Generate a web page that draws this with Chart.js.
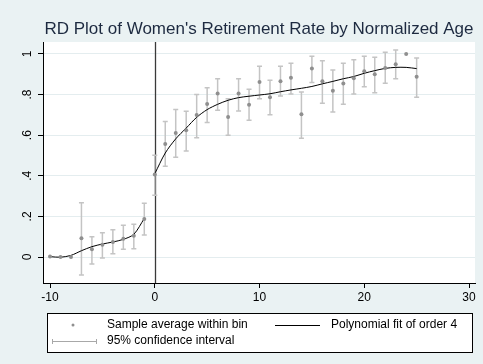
<!DOCTYPE html>
<html>
<head>
<meta charset="utf-8">
<script src="https://cdn.jsdelivr.net/npm/chart.js@4/dist/chart.umd.min.js"></script>
<style>
  html, body { margin: 0; padding: 0; background: #eaf2f3; }
  canvas { display: block; }
</style>
</head>
<body>
<canvas id="rd" width="483" height="364"></canvas>
<script>
// Normalized age bins (cutoff at 0) and the retirement rate within each bin
const binAge = [-10, -9, -8, -7, -6, -5, -4, -3, -2, -1,
  0, 1, 2, 3, 4, 5, 6, 7, 8, 9, 10, 11, 12, 13, 14, 15, 16, 17, 18, 19, 20, 21, 22, 23, 24, 25];
const binMean = [0.003, 0.0, 0.0, 0.092, 0.038, 0.061, 0.074, 0.090, 0.105, 0.187,
  0.407, 0.557, 0.611, 0.624, 0.700, 0.754, 0.805, 0.690, 0.805, 0.750, 0.862, 0.787, 0.866, 0.883,
  0.703, 0.928, 0.866, 0.819, 0.854, 0.880, 0.915, 0.900, 0.931, 0.950, 1.000, 0.888];
// 95% confidence bounds (null where the interval collapses)
const ciLow = [null, null, null, -0.089, -0.034, -0.005, 0.016, 0.038, 0.041, 0.108,
  0.304, 0.447, 0.491, 0.522, 0.588, 0.663, 0.723, 0.600, 0.719, 0.673, 0.780, 0.701, 0.793, 0.803,
  0.585, 0.859, 0.757, 0.714, 0.752, 0.803, 0.839, 0.809, 0.856, 0.878, null, 0.787];
const ciHigh = [null, null, null, 0.267, 0.100, 0.120, 0.134, 0.156, 0.161, 0.265,
  0.501, 0.668, 0.726, 0.718, 0.801, 0.834, 0.878, 0.780, 0.878, 0.826, 0.939, 0.870, 0.939, 0.954,
  0.813, 0.989, 0.967, 0.921, 0.954, 0.972, 0.989, 0.984, 1.008, 1.020, null, 0.980];

// Order-4 polynomial fit, each side of the cutoff
const fitLeftAge = [-10, -9, -8, -7, -6, -5, -4, -3, -2, -1];
const fitLeftVal = [0.002, -0.001, 0.008, 0.031, 0.051, 0.064, 0.074, 0.087, 0.112, 0.190];
const fitRightAge = [0, 1, 2, 3, 4, 5, 6, 7, 8, 9, 10, 11, 12, 13, 14, 15, 16, 17, 18, 19, 20, 21, 22, 23, 24, 25];
const fitRightVal = [0.410, 0.512, 0.582, 0.635, 0.688, 0.726, 0.752, 0.772, 0.785, 0.792, 0.798, 0.804,
  0.814, 0.823, 0.831, 0.840, 0.853, 0.865, 0.878, 0.889, 0.905, 0.918, 0.929, 0.934, 0.934, 0.928];

// Axis ticks
const xTickVals = [-10, 0, 10, 20, 30];
const yTickVals = [0, 0.2, 0.4, 0.6, 0.8, 1];
const yTickLabels = ['0', '.2', '.4', '.6', '.8', '1'];

const cutoff = 0;
const titleText = "RD Plot of Women's Retirement Rate by Normalized Age";
const legendLabels = ['Sample average within bin', 'Polynomial fit of order 4', '95% confidence interval'];

const FONT = '"Liberation Sans", Arial, sans-serif';
const BG = '#eaf2f3';
const POINT = '#8f8f8f';
const CI = '#c4c4c4';

const backdrop = {
  id: 'backdrop',
  beforeDraw(chart) {
    const { ctx, chartArea: a } = chart;
    ctx.save();
    ctx.fillStyle = BG;
    ctx.fillRect(0, 0, chart.width, chart.height);
    ctx.fillStyle = '#ffffff';
    ctx.fillRect(a.left, a.top, a.right - a.left, a.bottom - a.top);
    ctx.restore();
  }
};

const cutoffAndIntervals = {
  id: 'cutoffAndIntervals',
  beforeDatasetsDraw(chart) {
    const { ctx, chartArea: a, scales: { x, y } } = chart;
    ctx.save();
    // vertical line at the cutoff
    const cx = Math.round(x.getPixelForValue(cutoff)) + 0.5;
    ctx.strokeStyle = '#3a3a3a';
    ctx.lineWidth = 1.3;
    ctx.beginPath();
    ctx.moveTo(cx, a.top);
    ctx.lineTo(cx, a.bottom);
    ctx.stroke();
    // confidence intervals with caps
    ctx.strokeStyle = CI;
    ctx.lineWidth = 1.5;
    for (let i = 0; i < binAge.length; i++) {
      if (ciLow[i] === null || ciHigh[i] === null) continue;
      const px = x.getPixelForValue(binAge[i]);
      const y1 = y.getPixelForValue(ciLow[i]);
      const y2 = y.getPixelForValue(ciHigh[i]);
      ctx.beginPath();
      ctx.moveTo(px, y1); ctx.lineTo(px, y2);
      ctx.moveTo(px - 2.5, y1); ctx.lineTo(px + 2.5, y1);
      ctx.moveTo(px - 2.5, y2); ctx.lineTo(px + 2.5, y2);
      ctx.stroke();
    }
    ctx.restore();
  }
};

const textLayer = {
  id: 'textLayer',
  afterDraw(chart) {
    const { ctx, chartArea: a, scales: { y } } = chart;
    ctx.save();
    // title
    ctx.fillStyle = '#1d2a40';
    ctx.font = '17px ' + FONT;
    ctx.textAlign = 'center';
    ctx.textBaseline = 'middle';
    ctx.fillText(titleText, (a.left + a.right) / 2, 29);

    // vertical y tick labels
    ctx.fillStyle = '#000';
    ctx.font = '12px ' + FONT;
    yTickVals.forEach((v, i) => {
      ctx.save();
      ctx.translate(28, y.getPixelForValue(v));
      ctx.rotate(-Math.PI / 2);
      ctx.textAlign = 'center';
      ctx.textBaseline = 'middle';
      ctx.fillText(yTickLabels[i], 0, 0);
      ctx.restore();
    });

    // legend box
    const bx = 47, by = 313, bw = 425, bh = 39;
    ctx.fillStyle = '#fff';
    ctx.fillRect(bx, by, bw, bh);
    ctx.strokeStyle = '#000';
    ctx.lineWidth = 1;
    ctx.strokeRect(bx + 0.5, by + 0.5, bw, bh);

    const r1 = 325, r2 = 341;
    ctx.fillStyle = POINT;
    ctx.beginPath();
    ctx.arc(73, r1, 1.5, 0, Math.PI * 2);
    ctx.fill();

    ctx.strokeStyle = '#000';
    ctx.beginPath();
    ctx.moveTo(275, r1 + 0.5); ctx.lineTo(320, r1 + 0.5);
    ctx.stroke();

    ctx.strokeStyle = '#a8a8a8';
    ctx.beginPath();
    ctx.moveTo(52, r2 + 0.5); ctx.lineTo(97, r2 + 0.5);
    ctx.moveTo(52.5, r2 - 2); ctx.lineTo(52.5, r2 + 3);
    ctx.moveTo(96.5, r2 - 2); ctx.lineTo(96.5, r2 + 3);
    ctx.stroke();

    ctx.fillStyle = '#000';
    ctx.font = '12px ' + FONT;
    ctx.textAlign = 'left';
    ctx.textBaseline = 'middle';
    ctx.fillText(legendLabels[0], 107, r1);
    ctx.fillText(legendLabels[1], 331, r1);
    ctx.fillText(legendLabels[2], 107, r2);
    ctx.restore();
  }
};

new Chart(document.getElementById('rd'), {
  type: 'scatter',
  data: {
    datasets: [
      {
        label: legendLabels[0],
        data: binAge.map((a, i) => ({ x: a, y: binMean[i] })),
        pointRadius: 2,
        pointBackgroundColor: POINT,
        pointBorderWidth: 0,
        showLine: false,
        order: 0
      },
      {
        label: legendLabels[1],
        data: fitLeftAge.map((a, i) => ({ x: a, y: fitLeftVal[i] })),
        showLine: true,
        pointRadius: 0,
        borderColor: '#000',
        borderWidth: 1,
        tension: 0.3,
        order: 1
      },
      {
        label: legendLabels[1],
        data: fitRightAge.map((a, i) => ({ x: a, y: fitRightVal[i] })),
        showLine: true,
        pointRadius: 0,
        borderColor: '#000',
        borderWidth: 1,
        tension: 0.3,
        order: 1
      }
    ]
  },
  options: {
    responsive: false,
    animation: false,
    devicePixelRatio: 1,
    layout: { padding: { top: 42, right: 8, bottom: 0, left: 0 } },
    plugins: {
      legend: { display: false },
      title: { display: false },
      tooltip: { enabled: false }
    },
    scales: {
      x: {
        type: 'linear',
        min: -10.67,
        max: 30.57,
        afterBuildTicks: s => { s.ticks = xTickVals.map(v => ({ value: v })); },
        afterFit: s => { s.height = 81; },
        grid: { drawOnChartArea: false, drawTicks: true, tickLength: 5, tickColor: '#000' },
        border: { display: true, color: '#000', width: 1 },
        ticks: { color: '#000', font: { family: FONT, size: 12 }, padding: 2, maxRotation: 0 }
      },
      y: {
        type: 'linear',
        min: -0.128,
        max: 1.059,
        afterBuildTicks: s => { s.ticks = yTickVals.map(v => ({ value: v })); },
        afterFit: s => { s.width = 43; },
        grid: { color: '#e4edef', lineWidth: 1, drawTicks: true, tickLength: 5, tickColor: '#000' },
        border: { display: true, color: '#000', width: 1 },
        ticks: { display: false }
      }
    }
  },
  plugins: [backdrop, cutoffAndIntervals, textLayer]
});
</script>
</body>
</html>
